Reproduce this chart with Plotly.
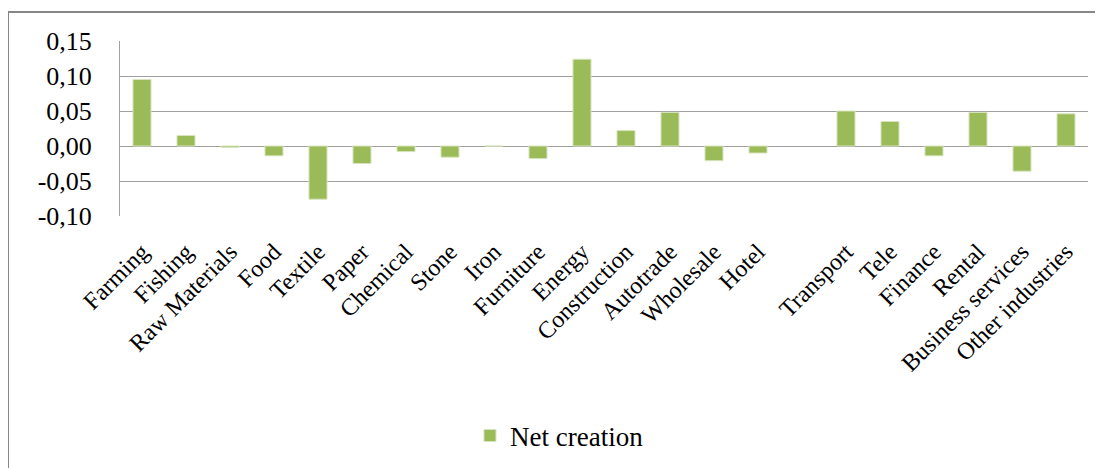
import plotly.graph_objects as go

# sector names (one empty slot between Hotel and Transport, as in the source)
sectors = [
    "Farming", "Fishing", "Raw Materials", "Food", "Textile", "Paper",
    "Chemical", "Stone", "Iron", "Furniture", "Energy", "Construction",
    "Autotrade", "Wholesale", "Hotel", " ", "Transport", "Tele", "Finance",
    "Rental", "Business services", "Other industries",
]
net_creation = [
    0.095, 0.015, -0.002, -0.014, -0.076, -0.025,
    -0.008, -0.016, 0.0, -0.018, 0.124, 0.022,
    0.048, -0.021, -0.010, None, 0.050, 0.035, -0.014,
    0.048, -0.036, 0.046,
]
y_ticks = [-0.10, -0.05, 0.00, 0.05, 0.10, 0.15]
y_ticktext = [f"{v:.2f}".replace(".", ",") for v in y_ticks]

font_family = "Liberation Serif, DejaVu Serif, serif"

fig = go.Figure(
    go.Bar(
        x=sectors,
        y=net_creation,
        name="Net creation",
        marker=dict(color="#9BBB59", line=dict(color="#D7E4BD", width=1)),
        showlegend=True,
    )
)

fig.update_layout(
    width=1103,
    height=468,
    margin=dict(l=112, r=23, t=33, b=260, autoexpand=False),
    paper_bgcolor="white",
    plot_bgcolor="white",
    bargap=0.59,
    font=dict(family=font_family, color="black"),
    showlegend=True,
    legend=dict(
        orientation="h",
        x=0.454, xanchor="center",
        y=-1.257, yanchor="middle",
        font=dict(size=27, family=font_family),
    ),
    xaxis=dict(
        tickangle=-45,
        tickfont=dict(size=24),
        showgrid=False,
        showline=False,
        ticks="",
        ticklabelstandoff=16,
        automargin=False,
    ),
    yaxis=dict(
        range=[-0.10, 0.15],
        tickvals=y_ticks,
        ticktext=y_ticktext,
        tickfont=dict(size=26),
        showgrid=True,
        gridcolor="#A0A0A0",
        gridwidth=1,
        zeroline=True,
        zerolinecolor="#A0A0A0",
        zerolinewidth=1,
        showline=True,
        linecolor="#A0A0A0",
        ticks="",
        ticklabelstandoff=22,
        automargin=False,
    ),
)

# outer chart frame
fig.add_shape(
    type="rect", xref="paper", yref="paper",
    x0=-0.1157, x1=1.05, y0=-1.5, y1=1.1657,
    line=dict(color="#868686", width=2),
    fillcolor="rgba(0,0,0,0)",
    layer="below",
)

fig.write_html("out.html")
